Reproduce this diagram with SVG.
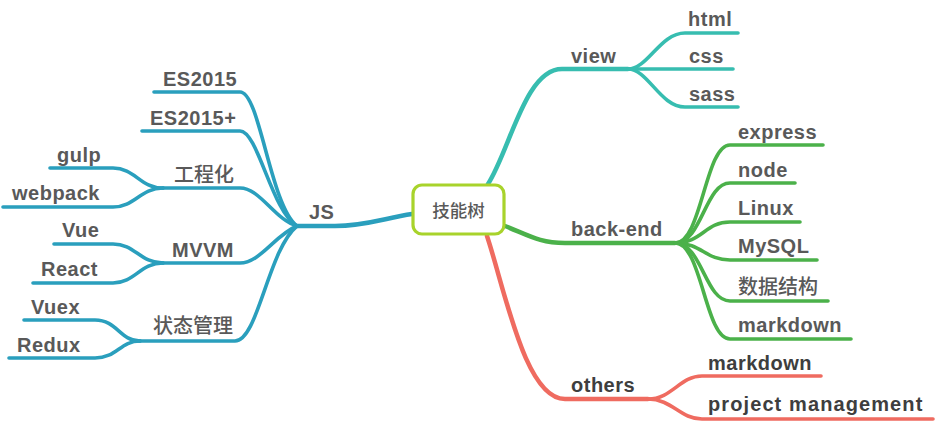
<svg xmlns="http://www.w3.org/2000/svg" width="935" height="424" viewBox="0 0 935 424">
<style>
.c{fill:none;stroke-linecap:round;stroke-linejoin:round}
.b{stroke:#2a9fbd}
.t{stroke:#37bdb0}
.g{stroke:#4bb14a}
.r{stroke:#ef6b60}
.m{stroke-width:4.5}
.s{stroke-width:3.6}
text{font-family:"Liberation Sans","Noto Sans CJK SC",Arial,sans-serif;font-size:20px;font-weight:bold;fill:#595959;letter-spacing:0.5px}
.cj{font-weight:500;letter-spacing:0}
.dk{fill:#3e3e3e}
</style>
<rect width="935" height="424" fill="#fff"/>
<g id="connectors">
<path class="c b m" d="M412,214 C385,218 365,226 335,226 H297"/>
<path class="c b s" d="M154,92 H240 C260,92 270,205 297,226"/>
<path class="c b s" d="M142,131 H240 C258,131 272,212 297,226"/>
<path class="c b s" d="M163,188 H240 C260,188 275,220 297,226"/>
<path class="c b s" d="M163,263 H240 C260,263 275,235 297,226"/>
<path class="c b s" d="M140,341 H235 C258,341 268,250 297,226"/>
<path class="c b s" d="M50,168 H113 C135,168 140,188 163,188"/>
<path class="c b s" d="M3,207 H113 C135,207 140,188 163,188"/>
<path class="c b s" d="M54,244 H113 C135,244 140,263 163,263"/>
<path class="c b s" d="M33,283 H113 C135,283 140,263 163,263"/>
<path class="c b s" d="M24,320 H95 C117,320 120,341 140,341"/>
<path class="c b s" d="M9,358 H95 C117,358 120,341 140,341"/>
<path class="c t m" d="M488,184 C510,150 525,69 562,69 H628"/>
<path class="c t s" d="M628,69 C648,69 660,33 685,33 H738"/>
<path class="c t s" d="M628,69 H733"/>
<path class="c t s" d="M628,69 C648,69 660,107 685,107 H738"/>
<path class="c g m" d="M505,226 C530,236 540,243 565,243 H675"/>
<path class="c g s" d="M675,243 C702,243 705,145 730,145 H823"/>
<path class="c g s" d="M675,243 C702,243 705,183 730,183 H795"/>
<path class="c g s" d="M675,243 C702,243 705,222 730,222 H800"/>
<path class="c g s" d="M675,243 C702,243 705,260 730,260 H817"/>
<path class="c g s" d="M675,243 C702,243 705,301 730,301 H828"/>
<path class="c g s" d="M675,243 C702,243 705,339 730,339 H851"/>
<path class="c r m" d="M487,236 C505,290 525,399 565,399 H648"/>
<path class="c r s" d="M648,399 C672,399 680,376 702,376 H821"/>
<path class="c r s" d="M648,399 C672,399 680,419 702,419 H933"/>
</g>
<g id="root">
<rect x="413" y="185" width="91" height="49" rx="9" fill="#fff" stroke="#a8d32b" stroke-width="3.2"/>
<text class="cj" x="458.5" y="217" text-anchor="middle" style="font-size:17.5px">技能树</text>
</g>
<g id="js"><text x="309" y="219">JS</text></g>
<g id="es2015"><text x="163" y="86">ES2015</text></g>
<g id="es2015p"><text x="150" y="125">ES2015+</text></g>
<g id="gcp"><text class="cj" x="174" y="182">工程化</text></g>
<g id="gulp"><text x="57" y="162">gulp</text></g>
<g id="webpack"><text x="12" y="200">webpack</text></g>
<g id="mvvm"><text x="172" y="257">MVVM</text></g>
<g id="vue"><text x="62" y="237">Vue</text></g>
<g id="react"><text x="41" y="276">React</text></g>
<g id="state"><text class="cj" x="153" y="333">状态管理</text></g>
<g id="vuex"><text x="31" y="314">Vuex</text></g>
<g id="redux"><text x="17" y="352">Redux</text></g>
<g id="view"><text x="571" y="63">view</text></g>
<g id="html"><text x="688" y="26">html</text></g>
<g id="css"><text x="689" y="63">css</text></g>
<g id="sass"><text x="689" y="101">sass</text></g>
<g id="backend"><text x="571" y="236">back-end</text></g>
<g id="express"><text x="738" y="139">express</text></g>
<g id="node"><text x="738" y="177">node</text></g>
<g id="linux"><text x="738" y="215">Linux</text></g>
<g id="mysql"><text x="738" y="253">MySQL</text></g>
<g id="ds"><text class="cj" x="738" y="294">数据结构</text></g>
<g id="markdown1"><text x="738" y="332">markdown</text></g>
<g id="others"><text class="dk" x="571" y="392">others</text></g>
<g id="markdown2"><text class="dk" x="708" y="370">markdown</text></g>
<g id="pm"><text class="dk" x="708" y="411" style="letter-spacing:1.1px">project management</text></g>
</svg>
